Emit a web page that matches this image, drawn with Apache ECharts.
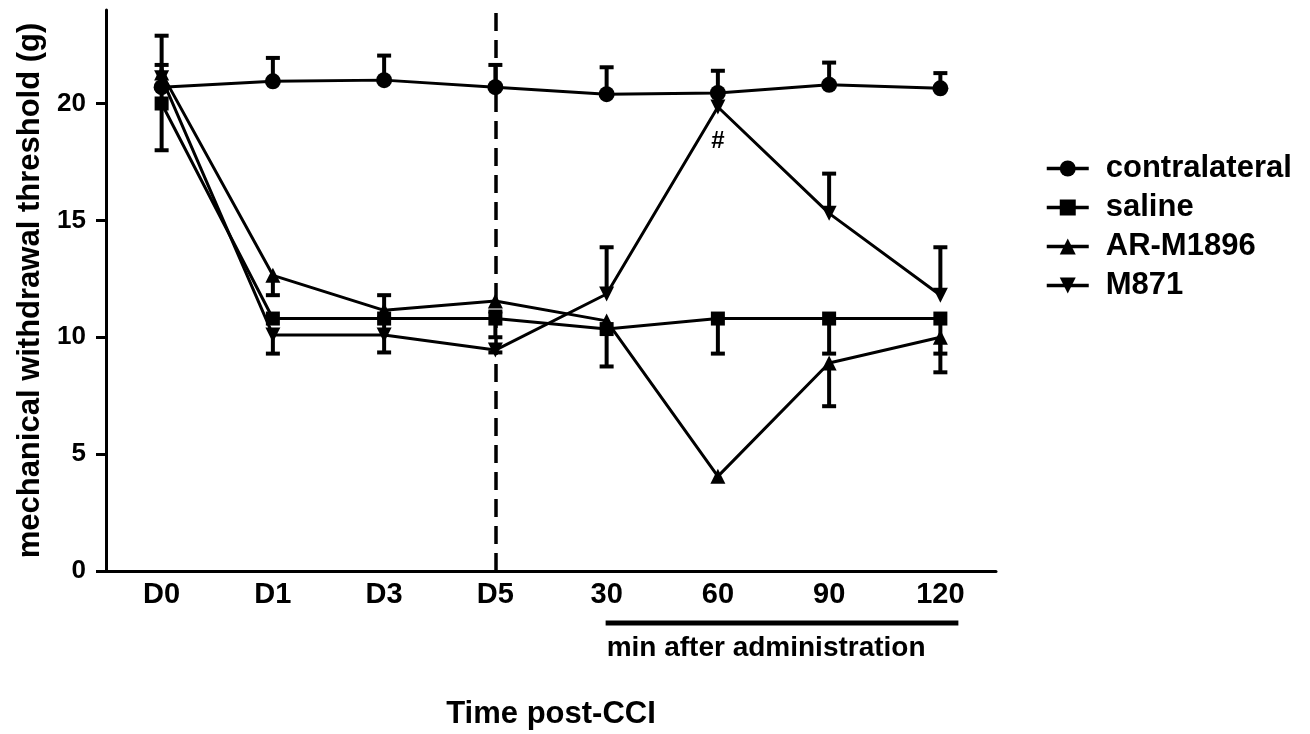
<!DOCTYPE html>
<html>
<head>
<meta charset="utf-8">
<script src="https://cdn.jsdelivr.net/npm/echarts@6/dist/echarts.min.js"></script>
<style>
  html, body { margin: 0; padding: 0; background: #fff; }
  #chart { width: 1310px; height: 734px; }
</style>
</head>
<body>
<div id="chart"></div>
<script>
// x categories (days post-CCI, then minutes after administration)
var categories = ["D0", "D1", "D3", "D5", "30", "60", "90", "120"];
var seriesNames = ["contralateral", "saline", "AR-M1896", "M871"];

// mean withdrawal threshold (g)
var contralateral = [20.7, 20.95, 21.0, 20.7, 20.4, 20.45, 20.8, 20.65];
var saline = [20.0, 10.8, 10.8, 10.8, 10.35, 10.8, 10.8, 10.8];
var arM1896 = [21.3, 12.65, 11.15, 11.55, 10.7, 4.05, 8.9, 10.0];
var m871 = [21.1, 10.1, 10.1, 9.45, 11.85, 19.85, 15.3, 11.8];

// error bar ends (null = not visible)
var contralateralHigh = [22.9, 21.95, 22.05, 21.65, 21.55, 21.4, 21.75, 21.3];
var salineHigh = [21.65, null, 11.8, 11.1, null, null, null, null];
var salineLow = [18.0, null, 9.35, 10.0, 8.75, 9.3, 9.3, 9.3];
var arM1896Low = [null, 11.8, null, null, null, null, 7.05, 8.5];
var m871High = [null, null, null, null, 13.85, null, 17.0, 13.85];
var m871Low = [null, 9.3, null, 9.35, null, null, null, null];

var yTicks = [0, 5, 10, 15, 20];

var chart = echarts.init(document.getElementById("chart"));
var boldFont = "Liberation Sans";

function errData(means, ends) {
  var out = [];
  ends.forEach(function (e, i) {
    if (e !== null) out.push([i, means[i], e]);
  });
  return out;
}

function errSeries(means, ends) {
  return {
    type: "custom",
    z: 1,
    silent: true,
    data: errData(means, ends),
    encode: { x: 0, y: [1, 2] },
    renderItem: function (params, api) {
      var p0 = api.coord([api.value(0), api.value(1)]);
      var p1 = api.coord([api.value(0), api.value(2)]);
      var half = 7;
      var style = { stroke: "#000", lineWidth: 4, fill: null };
      return {
        type: "group",
        children: [
          { type: "line", shape: { x1: p0[0], y1: p0[1], x2: p1[0], y2: p1[1] }, style: style },
          { type: "line", shape: { x1: p1[0] - half, y1: p1[1], x2: p1[0] + half, y2: p1[1] }, style: style }
        ]
      };
    }
  };
}

function lineSeries(name, data, symbol, size) {
  return {
    name: name,
    type: "line",
    data: data,
    symbol: symbol,
    symbolSize: size,
    z: 3,
    itemStyle: { color: "#000" },
    lineStyle: { color: "#000", width: 3 }
  };
}

var m871Data = m871.map(function (v, i) {
  if (categories[i] === "60") {
    return {
      value: v,
      label: {
        show: true, position: "bottom", distance: 15, formatter: "#",
        color: "#000", fontSize: 24, fontWeight: "bold", fontFamily: boldFont
      }
    };
  }
  return v;
});

var salineSeries = lineSeries("saline", saline, "rect", 14);
salineSeries.markLine = {
  silent: true,
  symbol: "none",
  label: { show: false },
  lineStyle: { color: "#000", type: [18, 9], width: 3.5 },
  data: [{ xAxis: "D5" }]
};

var option = {
  backgroundColor: "#fff",
  animation: false,
  grid: { left: 106, right: 314, top: 10, bottom: 163, containLabel: false, outerBoundsMode: "none" },
  legend: {
    data: seriesNames,
    orient: "vertical",
    left: 1040,
    top: 148,
    itemWidth: 42,
    itemHeight: 20,
    itemGap: 8,
    lineStyle: { width: 3.5 },
    textStyle: { color: "#000", fontSize: 31, fontWeight: "bold", fontFamily: boldFont, padding: [0, 0, 0, 12] }
  },
  xAxis: {
    type: "category",
    data: categories,
    boundaryGap: true,
    name: "Time post-CCI",
    nameLocation: "middle",
    nameGap: 128,
    nameTextStyle: { color: "#000", fontSize: 31, fontWeight: "bold", fontFamily: boldFont },
    axisLine: { lineStyle: { color: "#000", width: 3 } },
    axisTick: { inside: true, length: 10, alignWithLabel: true, lineStyle: { color: "#000", width: 3 } },
    axisLabel: { color: "#000", fontSize: 29, fontWeight: "bold", fontFamily: boldFont, margin: 9 },
    splitLine: { show: false }
  },
  yAxis: {
    type: "value",
    min: 0,
    max: 24,
    interval: 5,
    name: "mechanical withdrawal threshold (g)",
    nameLocation: "middle",
    nameGap: 49,
    nameTextStyle: { color: "#000", fontSize: 31, fontWeight: "bold", fontFamily: boldFont },
    axisLine: { show: true, lineStyle: { color: "#000", width: 3 } },
    axisTick: { show: true, length: 10, customValues: yTicks, lineStyle: { color: "#000", width: 3 } },
    axisLabel: {
      color: "#000", fontSize: 26, fontWeight: "bold", fontFamily: boldFont, margin: 20,
      customValues: yTicks
    },
    splitLine: { show: false }
  },
  series: [
    errSeries(contralateral, contralateralHigh),
    errSeries(saline, salineHigh),
    errSeries(saline, salineLow),
    errSeries(arM1896, arM1896Low),
    errSeries(m871, m871High),
    errSeries(m871, m871Low),
    lineSeries("contralateral", contralateral, "circle", 16),
    salineSeries,
    lineSeries("AR-M1896", arM1896, "triangle", 15),
    lineSeries("M871", m871Data, "path://M0,0 L10,0 L5,9 Z", 15)
  ]
};

chart.setOption(option);

// bracket under the minute ticks
var pStart = chart.convertToPixel({ xAxisIndex: 0 }, "30");
var pEnd = chart.convertToPixel({ xAxisIndex: 0 }, "120");
var axisY = chart.convertToPixel({ yAxisIndex: 0 }, 0);
chart.setOption({
  graphic: [
    {
      type: "line",
      shape: { x1: pStart - 1, y1: axisY + 52, x2: pEnd + 18, y2: axisY + 52 },
      style: { stroke: "#000", lineWidth: 5 }
    },
    {
      type: "text",
      x: pStart,
      y: axisY + 77,
      style: {
        text: "min after administration",
        fill: "#000",
        font: "bold 28px " + boldFont,
        align: "left",
        verticalAlign: "middle"
      }
    }
  ]
});
</script>
</body>
</html>
